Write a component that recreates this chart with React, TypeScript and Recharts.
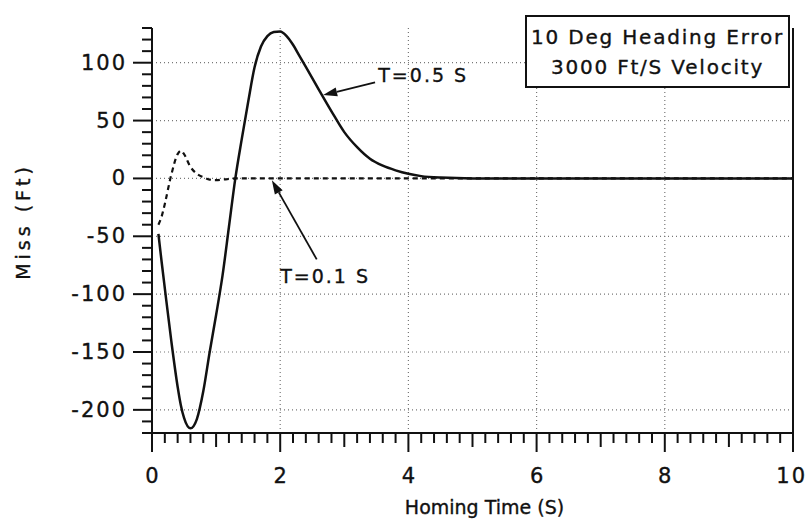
import React from 'react';
import { LineChart, Line, XAxis, YAxis, ReferenceLine, ReferenceDot, Label } from 'recharts';

// homing time (s)
const times = [0.1, 0.15, 0.2, 0.3, 0.4, 0.45, 0.5, 0.6, 0.7, 0.8, 0.9, 1.0, 1.1, 1.2, 1.3, 1.4, 1.5, 1.6, 1.7, 1.8, 1.9, 2.0, 2.1, 2.2, 2.3, 2.4, 2.6, 2.8, 3.0, 3.2, 3.4, 3.6, 3.8, 4.0, 4.2, 4.5, 5, 6, 7, 8, 9, 10];
// miss (ft), guidance time constant 0.5 s
const missT05 = [-48, -72, -95, -140, -180, -196, -207, -216, -208, -184, -150, -118, -84, -42, 0, 34, 66, 96, 114, 123, 126.5, 127, 123, 115.5, 106, 96.5, 77, 58, 40, 27, 17, 11, 7, 4, 2, 0.7, 0, 0, 0, 0, 0, 0];
// miss (ft), guidance time constant 0.1 s
const missT01 = [-40, -33, -22, 3, 21, 24, 21, 10, 4, 1, -1, -1.5, -1, -0.5, 0, 0, 0, 0, 0, 0, 0, 0, 0, 0, 0, 0, 0, 0, 0, 0, 0, 0, 0, 0, 0, 0, 0, 0, 0, 0, 0, 0];

const xMajor = [0, 2, 4, 6, 8, 10];
const yMajor = [-200, -150, -100, -50, 0, 50, 100];
const xTicks = Array.from({ length: 51 }, (_, i) => i / 5);
const yTicks = Array.from({ length: 36 }, (_, i) => -220 + i * 10);

const data = times.map((t, i) => ({ t, t05: missT05[i], t01: missT01[i] }));

const FONT = '"DejaVu Sans", "Liberation Sans", sans-serif';
const INK = '#111';
const txt = { fontFamily: FONT, fill: INK, stroke: INK, strokeWidth: 0.35 };

function XTick({ x, y, payload }: any) {
  const v = payload.value;
  const major = xMajor.includes(v);
  const len = major ? 19 : Number.isInteger(v) ? 14 : 10;
  const last = v === 10;
  return (
    <g>
      <line x1={x} y1={y} x2={x} y2={y + len} stroke={INK} strokeWidth={2} />
      {major && (
        <text x={last ? x + 14 : x + 1} y={y + 43} textAnchor={last ? 'end' : 'middle'} dominantBaseline="central"
          fontSize={21} letterSpacing={2} {...txt}>{v}</text>
      )}
    </g>
  );
}

function YTickLeft({ x, y, payload }: any) {
  const major = yMajor.includes(payload.value);
  return (
    <g>
      <line x1={x - (major ? 19 : 10)} y1={y} x2={x} y2={y} stroke={INK} strokeWidth={2} />
      {major && (
        <text x={x - 25} y={y} textAnchor="end" dominantBaseline="central"
          fontSize={21} letterSpacing={2} {...txt}>{payload.value}</text>
      )}
    </g>
  );
}

function YTickRight({ x, y, payload }: any) {
  const major = yMajor.includes(payload.value);
  return <line x1={x} y1={y} x2={x + (major ? 19 : 10)} y2={y} stroke={INK} strokeWidth={2} />;
}

function Arrow(p: any) {
  const { x1, y1, x2, y2 } = p;
  const a = Math.atan2(y2 - y1, x2 - x1);
  const L = 14, W = 4.5;
  const bx = x2 - L * Math.cos(a), by = y2 - L * Math.sin(a);
  const pts = `${x2},${y2} ${bx + W * Math.sin(a)},${by - W * Math.cos(a)} ${bx - W * Math.sin(a)},${by + W * Math.cos(a)}`;
  return (
    <g>
      <line x1={x1} y1={y1} x2={bx} y2={by} stroke={INK} strokeWidth={1.8} />
      <polygon points={pts} fill={INK} />
    </g>
  );
}

const note = (s: string) => (p: any) => (
  <text x={p.cx} y={p.cy} dominantBaseline="central" fontSize={19} letterSpacing={2} {...txt}>{s}</text>
);

const grid = { stroke: '#777', strokeDasharray: '1 3', strokeWidth: 1.2 };

export default function App() {
  return (
    <div style={{ position: 'absolute', left: 0, top: 0, width: 807, height: 521, background: '#fff' }}>
      <LineChart width={807} height={521} data={data} margin={{ top: 28, right: 0, bottom: 0, left: 0 }}>
        {[2, 4, 6, 8].map((v) => <ReferenceLine key={'gx' + v} x={v} {...grid} />)}
        {yMajor.map((v) => <ReferenceLine key={'gy' + v} y={v} {...grid} />)}
        <XAxis dataKey="t" type="number" domain={[0, 10]} ticks={xTicks} interval={0} height={88}
          tickSize={0} tickMargin={0} tickLine={false} tick={<XTick />}
          axisLine={{ stroke: INK, strokeWidth: 2 }}>
          <Label content={(p: any) => (
            <text x={p.viewBox.x + p.viewBox.width / 2 + 12} y={p.viewBox.y + 74} textAnchor="middle"
              dominantBaseline="central" fontSize={19} {...txt}>Homing Time (S)</text>
          )} />
        </XAxis>
        <YAxis type="number" domain={[-220, 130]} ticks={yTicks} interval={0} width={152}
          tickSize={0} tickMargin={0} tickLine={false} tick={<YTickLeft />}
          axisLine={{ stroke: INK, strokeWidth: 2 }}>
          <Label content={(p: any) => {
            const cx = p.viewBox.x + 23, cy = p.viewBox.y + p.viewBox.height / 2 - 9;
            return (
              <text x={cx} y={cy} transform={`rotate(-90 ${cx} ${cy})`} textAnchor="middle"
                dominantBaseline="central" fontSize={19} letterSpacing={4} {...txt}>Miss (Ft)</text>
            );
          }} />
        </YAxis>
        <YAxis yAxisId="r" orientation="right" type="number" domain={[-220, 130]} ticks={yTicks} interval={0} width={14}
          tickSize={0} tickMargin={0} tickLine={false} tick={<YTickRight />}
          axisLine={{ stroke: INK, strokeWidth: 2 }} />
        <Line type="monotone" dataKey="t05" stroke={INK} strokeWidth={2.5} dot={false} isAnimationActive={false} />
        <Line type="monotone" dataKey="t01" stroke={INK} strokeWidth={2.2} strokeDasharray="5 4" dot={false} isAnimationActive={false} />
        <ReferenceLine segment={[{ x: 3.48, y: 83 }, { x: 2.67, y: 72 }]} shape={Arrow} />
        <ReferenceLine segment={[{ x: 2.57, y: -70 }, { x: 1.87, y: -1.5 }]} shape={Arrow} />
        <ReferenceDot x={3.53} y={89} r={0} shape={note('T=0.5 S')} />
        <ReferenceDot x={2.0} y={-84} r={0} shape={note('T=0.1 S')} />
      </LineChart>
      <div style={{
        position: 'absolute', left: 525, top: 15, width: 265, height: 73, boxSizing: 'border-box',
        border: `2.5px solid ${INK}`, background: '#fff', display: 'flex', flexDirection: 'column',
        justifyContent: 'center', alignItems: 'center', fontFamily: FONT, fontSize: 20, letterSpacing: 1.8,
        color: INK, lineHeight: '30px', WebkitTextStroke: '0.35px #111', whiteSpace: 'nowrap',
      }}>
        <div>10 Deg Heading Error</div>
        <div>3000 Ft/S Velocity</div>
      </div>
    </div>
  );
}
